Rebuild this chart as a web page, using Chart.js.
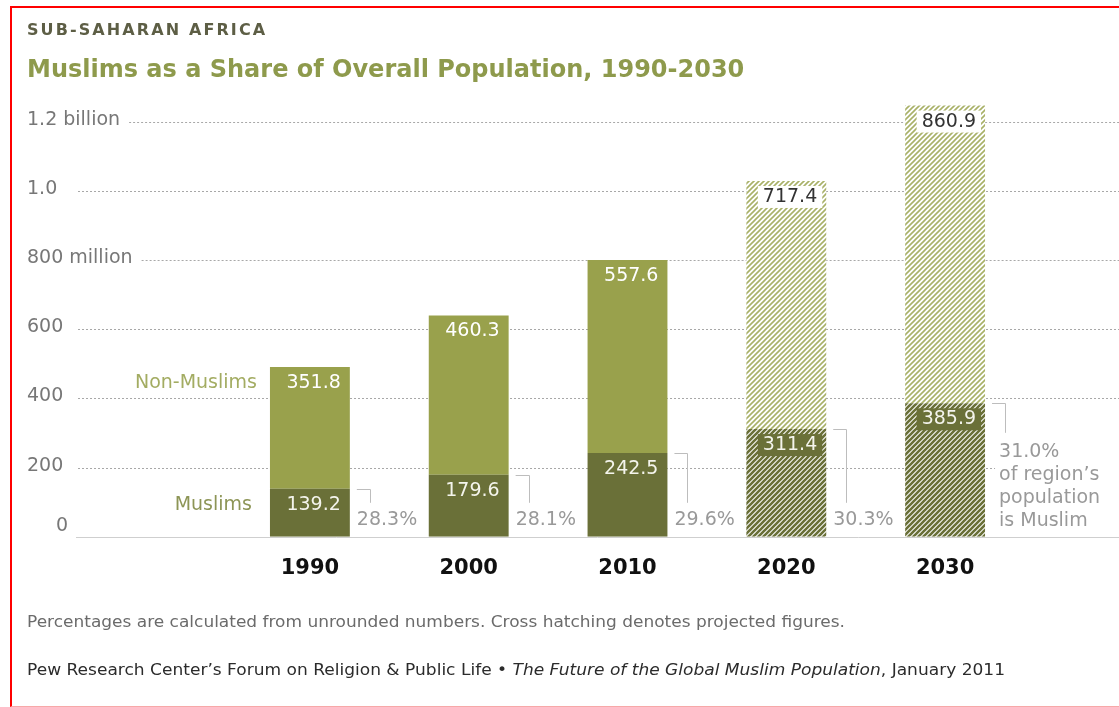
<!DOCTYPE html>
<html>
<head>
<meta charset="utf-8">
<script src="https://cdn.jsdelivr.net/npm/chart.js@4.4.0/dist/chart.umd.min.js"></script>
<style>
html, body { margin: 0; padding: 0; background: #fff; overflow: hidden; }
#wrap { position: absolute; left: 0; top: 0; width: 1119px; height: 707px; }
#frame { position: absolute; left: 10px; top: 6px; width: 1200px; height: 698px;
  border-top: 2px solid #f00; border-left: 2px solid #f00; border-bottom: 1px solid #f7a8a8; pointer-events: none; }
</style>
</head>
<body>
<div id="wrap"><canvas id="myChart"></canvas></div>
<div id="frame"></div>
<script>
// dados do gráfico
const years = ['1990', '2000', '2010', '2020', '2030'];
const muslims = [139.2, 179.6, 242.5, 311.4, 385.9];
const nonMuslims = [351.8, 460.3, 557.6, 717.4, 860.9];
const muslimShare = ['28.3%', '28.1%', '29.6%', '30.3%', '31.0%'];
const shareNote = ['of region\u2019s', 'population', 'is Muslim'];
const projected = [false, false, false, true, true];
const yTicks = [0, 200, 400, 600, 800, 1000, 1200];
const yTickLabels = ['0', '200', '400', '600', '800 million', '1.0', '1.2 billion'];

const FONT = '"DejaVu Sans", Verdana, sans-serif';
const DARK = '#6a7038';
const LIGHT = '#99a14c';

function hatch(color, lineW) {
    const c = document.createElement('canvas');
    c.width = 5; c.height = 5;
    const g = c.getContext('2d');
    g.fillStyle = '#fff';
    g.fillRect(0, 0, 5, 5);
    g.strokeStyle = color;
    g.lineWidth = lineW;
    g.beginPath();
    g.moveTo(-1, 6); g.lineTo(6, -1);
    g.moveTo(-3.5, 3.5); g.lineTo(3.5, -3.5);
    g.moveTo(1.5, 8.5); g.lineTo(8.5, 1.5);
    g.stroke();
    return g.createPattern(c, 'repeat');
}

const darkHatch = hatch(DARK, 2.6);
const lightHatch = hatch('#a9b168', 1.6);

// texto comprimido para caber na largura da nota
function fitText(ctx, parts, x, y, width) {
    let total = 0;
    parts.forEach(p => { ctx.font = p[1] + '15px ' + FONT; total += ctx.measureText(p[0]).width; });
    const k = width / total;
    ctx.save();
    ctx.translate(x, y);
    ctx.scale(k, 1);
    let cx = 0;
    parts.forEach(p => {
        ctx.font = p[1] + '15px ' + FONT;
        ctx.fillText(p[0], cx, 0);
        cx += ctx.measureText(p[0]).width;
    });
    ctx.restore();
}

const decor = {
    id: 'decor',
    beforeDatasetsDraw(chart) {
        const ctx = chart.ctx, y = chart.scales.y;
        ctx.save();
        ctx.font = '19px ' + FONT;
        ctx.textBaseline = 'middle';
        ctx.fillStyle = '#777';
        yTicks.forEach((v, i) => {
            const py = y.getPixelForValue(v);
            const lbl = yTickLabels[i];
            if (v === 0) {
                ctx.fillText(lbl, 56, py - 11);
                return;
            }
            ctx.fillText(lbl, 27, py - 2);
            const start = Math.max(78, 27 + ctx.measureText(lbl).width + 9);
            ctx.strokeStyle = '#a8a8a8';
            ctx.lineWidth = 1;
            ctx.setLineDash([2, 2]);
            ctx.beginPath();
            ctx.moveTo(start, Math.round(py) + 0.5);
            ctx.lineTo(chart.width, Math.round(py) + 0.5);
            ctx.stroke();
        });
        // linha de base
        const y0 = Math.round(y.getPixelForValue(0)) + 0.5;
        ctx.setLineDash([]);
        ctx.strokeStyle = '#cfcfcf';
        ctx.beginPath();
        ctx.moveTo(76, y0);
        ctx.lineTo(chart.width, y0);
        ctx.stroke();
        ctx.restore();
    },
    afterDatasetsDraw(chart) {
        const ctx = chart.ctx, y = chart.scales.y;
        const m0 = chart.getDatasetMeta(0).data;
        const m1 = chart.getDatasetMeta(1).data;
        const y0 = y.getPixelForValue(0);
        ctx.save();
        ctx.font = '19px ' + FONT;
        ctx.textBaseline = 'middle';

        function valueLabel(el, text, boxColor, textColor) {
            const right = el.x + el.width / 2 - 9;
            const cy = el.y + 16;
            const w = ctx.measureText(text).width;
            if (boxColor) {
                ctx.fillStyle = boxColor;
                ctx.fillRect(right - w - 5, cy - 11, w + 10, 22);
            }
            ctx.fillStyle = textColor;
            ctx.textAlign = 'right';
            ctx.fillText(text, right, cy);
        }

        years.forEach((yr, i) => {
            valueLabel(m1[i], nonMuslims[i].toFixed(1), projected[i] ? '#fff' : null, projected[i] ? '#333' : '#fff');
            valueLabel(m0[i], muslims[i].toFixed(1), projected[i] ? DARK : null, '#f4f4ec');

            // colchete e porcentagem
            const el = m0[i];
            const right = el.x + el.width / 2;
            const top = Math.round(el.y) + 0.5;
            const last = i === years.length - 1;
            const end = last ? y0 - 104 : y0 - 34;

            ctx.textAlign = 'left';
            if (last) {
                ctx.fillStyle = '#fff';
                ctx.fillRect(right + 10, y0 - 98, chart.width, 92);
            }
            ctx.strokeStyle = '#bdbdbd';
            ctx.lineWidth = 1;
            ctx.beginPath();
            ctx.moveTo(right + 7, top);
            ctx.lineTo(Math.round(right + 20) + 0.5, top);
            ctx.lineTo(Math.round(right + 20) + 0.5, end);
            ctx.stroke();

            ctx.fillStyle = '#999';
            if (!last) {
                ctx.fillText(muslimShare[i], right + 7, y0 - 17);
            } else {
                [muslimShare[i]].concat(shareNote).forEach((t, k) => {
                    ctx.fillText(t, right + 14, y0 - 85 + k * 23);
                });
            }
        });

        // rótulos das séries
        const left = m0[0].x - m0[0].width / 2;
        ctx.textAlign = 'right';
        ctx.fillStyle = '#a3ac62';
        ctx.fillText('Non-Muslims', left - 13, m1[0].y + 16);
        ctx.fillStyle = '#8d9556';
        ctx.fillText('Muslims', left - 18, m0[0].y + 16);
        ctx.restore();
    },
    afterDraw(chart) {
        const ctx = chart.ctx;
        ctx.save();
        ctx.textAlign = 'left';
        ctx.textBaseline = 'alphabetic';
        ctx.fillStyle = '#5d5e45';
        ctx.font = 'bold 16px ' + FONT;
        ctx.letterSpacing = '2.1px';
        ctx.fillText('SUB-SAHARAN AFRICA', 27, 35);
        ctx.letterSpacing = '0px';
        ctx.fillStyle = '#8e9a4c';
        ctx.font = 'bold 24px ' + FONT;
        ctx.fillText('Muslims as a Share of Overall Population, 1990-2030', 27, 77);

        ctx.fillStyle = '#6b6b6b';
        fitText(ctx, [['Percentages are calculated from unrounded numbers. Cross hatching denotes projected figures.', '']], 27, 627, 818);

        ctx.fillStyle = '#2b2b2b';
        fitText(ctx, [
            ['Pew Research Center\u2019s Forum on Religion & Public Life \u2022 ', ''],
            ['The Future of the Global Muslim Population', 'italic '],
            [', January 2011', '']
        ], 27, 675, 978);
        ctx.restore();
    }
};

const ctx = document.getElementById('myChart').getContext('2d');
const myChart = new Chart(ctx, {
    type: 'bar',
    data: {
        labels: years,
        datasets: [{
            label: 'Muslims',
            data: muslims,
            backgroundColor: projected.map(p => p ? darkHatch : DARK),
            borderWidth: 0
        }, {
            label: 'Non-Muslims',
            data: nonMuslims,
            backgroundColor: projected.map(p => p ? lightHatch : LIGHT),
            borderWidth: 0
        }]
    },
    options: {
        responsive: true,
        maintainAspectRatio: false,
        animation: false,
        layout: { padding: { left: 230.5, right: 94.5, top: 101, bottom: 107 } },
        datasets: { bar: { categoryPercentage: 1, barPercentage: 0.503 } },
        plugins: { legend: { display: false }, tooltip: { enabled: false } },
        scales: {
            x: {
                stacked: true,
                offset: true,
                grid: { display: false, drawTicks: false },
                border: { display: false },
                ticks: { color: '#111', padding: 19, font: { family: FONT, size: 21, weight: 'bold' } }
            },
            y: {
                stacked: true,
                display: false,
                min: 0,
                max: 1260
            }
        }
    },
    plugins: [decor]
});
</script>
</body>
</html>
